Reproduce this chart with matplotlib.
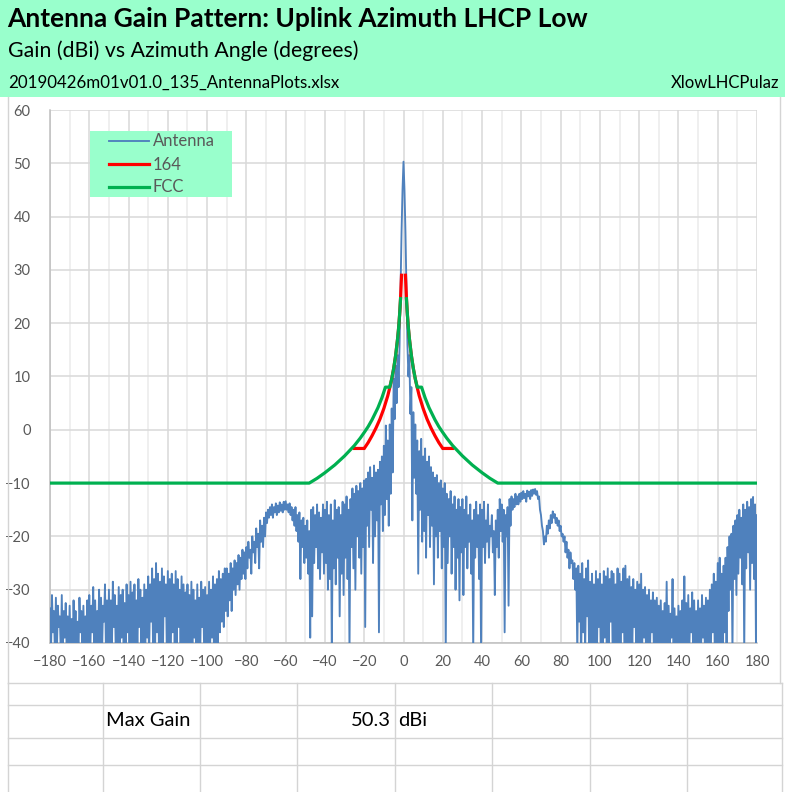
import numpy as np
import matplotlib
matplotlib.use("Agg")
import matplotlib.pyplot as plt
from matplotlib.patches import Rectangle
from matplotlib.lines import Line2D

# ---------------- data ----------------
title = "Antenna Gain Pattern: Uplink Azimuth LHCP Low"
subtitle = "Gain (dBi) vs Azimuth Angle (degrees)"
file_label = "20190426m01v01.0_135_AntennaPlots.xlsx"
sheet_label = "XlowLHCPulaz"
series_names = ["Antenna", "164", "FCC"]
x_ticks = list(range(-180, 181, 20))
y_ticks = list(range(-40, 61, 10))
max_gain_label = "Max Gain"
max_gain_value = 50.3
max_gain_unit = "dBi"

# antenna gain sampled every 0.5 degree from -180 to +180 (one row = 10 degrees)
antenna_start = -180.0
antenna_step = 0.5
antenna_gain = [
    -33.5, -42, -31, -38, -34, -42, -31.5, -42, -33, -37, -35, -42, -31, -42, -34, -39, -32.5, -42, -35, -42,
    -33, -42, -35.5, -42, -32, -40, -34, -42, -36, -42, -31.5, -38, -34, -42, -33, -42, -35, -42, -32, -41,
    -31, -42, -33, -38, -29.5, -42, -32, -42, -34, -40, -30, -42, -31.5, -42, -33, -36, -29, -42, -32, -42,
    -30, -42, -32, -42, -28.5, -37, -31, -42, -33, -42, -29.5, -42, -31, -39, -30, -42, -32.5, -42, -29, -38,
    -31, -42, -28.5, -42, -30.5, -40, -29, -42, -32, -42, -28, -37, -30, -42, -31.5, -42, -29, -42, -30, -39,
    -27.5, -42, -29, -36, -26, -42, -28, -42, -25, -38, -27, -42, -28.5, -42, -26, -42, -27.5, -35, -29, -42,
    -26.5, -42, -28, -42, -27, -38, -29, -42, -26.5, -42, -28, -37, -30, -42, -27.5, -42, -29, -42, -30.5, -40,
    -29, -42, -31, -42, -28.5, -42, -30, -39, -32, -42, -29, -42, -31.5, -42, -28.5, -37, -30, -42, -29.5, -42,
    -31, -42, -28.5, -42, -30, -39, -27.5, -42, -29, -42, -28, -40, -26.5, -38, -28, -36, -27, -37, -26, -34,
    -26, -35, -27, -32, -25, -34, -26, -30, -24.5, -31, -25, -29, -23.5, -30, -24, -28, -22.5, -27, -23, -28,
    -22, -26, -21, -24, -22.5, -27, -20, -23, -21, -25, -18.5, -22, -19.5, -26, -17, -21, -18, -22, -16.5, -20,
    -15.5, -17.5, -15, -16.5, -14.5, -16, -14, -16.5, -14.5, -15.5, -13.8, -16, -14.2, -15.5, -13.6, -15.2, -14, -15.5, -13.5, -15,
    -13.4, -15, -14, -15.5, -13.8, -16, -14.5, -17, -15, -18, -14.5, -19, -16, -21, -15.5, -28, -17, -22, -16.5, -25,
    -18, -24, -17, -27, -19, -39, -15, -35, -14.5, -25, -16, -22, -14, -26, -15.5, -28, -16.5, -23, -14, -27,
    -15, -25, -13.5, -30, -16, -28, -14, -42, -17, -26, -13.2, -29, -15, -24, -14.5, -35, -16, -27, -13.5, -31,
    -14, -24, -12.5, -28, -15, -42, -13, -22, -11, -26, -12, -30, -10.5, -20, -11.5, -24, -10, -27, -11, -22,
    -9.5, -37, -9.2, -18, -8, -22, -7, -15, -9, -25, -6.7, -20, -8, -17, -7.5, -38, -6, -14, -5, -19,
    -3, -16, 0.8, -13, -2, -18, 1, -12, 4, -8, 9.6, 2, 12, 5, 14, 8, 16, 27, 37, 45,
    50.3, 45, 37, 27, 16, 10, 14, 3, 8, -17, 3.3, -9, 1, -12, -2, -27, -4, -15, -1.7, -21,
    -5, -19, -3.5, -24, -6, -16, -5, -22, -7, -18, -8, -29, -9, -20, -8.5, -24, -10, -19, -9.5, -26,
    -11, -22, -10, -42, -12, -25, -13, -20, -11.5, -27, -14, -22, -12.5, -30, -15, -24, -13, -32, -14.5, -23,
    -13, -31, -15, -22, -12.5, -26, -16, -21, -14, -27, -17, -42, -15, -24, -13.5, -22, -16, -28, -14, -42,
    -15, -22, -13.5, -25, -17, -21, -14, -24, -18, -20, -16, -23, -19, -31, -17, -22, -15, -24, -13, -19,
    -14, -21, -15, -38, -16, -20, -14.5, -33, -13, -18, -12.5, -15, -13, -14.5, -12, -14, -12.5, -14, -12, -13.5,
    -11.8, -13, -11.5, -12.8, -12, -13.5, -11.4, -12.5, -11.6, -13, -11.3, -12.4, -11.2, -12, -11.1, -12.2, -11.5, -13, -12.5, -15,
    -16, -18, -19, -21.5, -20, -21, -18, -19.5, -17, -18.5, -16, -17.5, -15.3, -16.5, -15.8, -17.5, -16.5, -18, -17, -19,
    -18, -20, -19.5, -21, -20, -23, -21, -24, -22.5, -26, -23, -25, -24.5, -28, -25, -30, -26, -42, -25.5, -36,
    -27, -42, -25, -38, -28, -42, -26, -35, -24.5, -42, -28.5, -42, -27, -40, -29, -42, -26.5, -42, -28, -37,
    -27, -42, -29, -42, -26.5, -39, -27.5, -42, -26, -42, -28, -36, -26.5, -42, -27, -42, -29, -40, -26, -42,
    -27, -42, -28.5, -38, -26, -42, -25.5, -42, -28, -41, -27.5, -42, -29.5, -42, -28, -37, -30, -42, -28.5, -42,
    -29, -42, -27, -42, -30, -39, -29.5, -42, -31, -42, -30, -42, -32, -38, -30.5, -42, -32, -42, -31.5, -42,
    -33, -42, -32, -42, -34, -40, -32.5, -42, -28.5, -42, -33, -42, -34.5, -39, -28, -42, -33.5, -42, -35, -42,
    -33, -42, -34, -42, -32, -40, -27.5, -42, -32.5, -42, -31, -42, -33.5, -38, -30.5, -42, -32, -42, -34, -42,
    -32, -42, -33.5, -42, -31, -39, -33, -42, -31.5, -42, -32, -42, -30, -42, -29, -38, -27, -42, -28.5, -42,
    -25, -42, -24, -40, -27, -42, -25.5, -38, -24, -42, -22, -34, -20, -30, -19.5, -42, -18, -28, -17, -31,
    -16, -27, -15, -24, -16.5, -29, -14, -42, -15, -26, -13.5, -23, -14.5, -30, -13, -25, -12.6, -28, -14, -42,
    -16,
]

# "164" mask (breakpoints; NaN = gap at boresight)
mask164_angle = [-25, -20, -18, -16, -14, -12, -10, -8, -7, -6, -5, -4, -3, -2.5, -2, -1.5, -1, np.nan,
                 1, 1.5, 2, 2.5, 3, 4, 5, 6, 7, 8, 10, 12, 14, 16, 18, 20, 25]
mask164_gain = [-3.5, -3.5, -2.4, -1.1, 0.35, 2.0, 4.0, 6.4, 7.9, 9.55, 11.5, 13.95, 17.1, 19.05, 21.5, 24.6, 29, np.nan,
                29, 24.6, 21.5, 19.05, 17.1, 13.95, 11.5, 9.55, 7.9, 6.4, 4.0, 2.0, 0.35, -1.1, -2.4, -3.5, -3.5]

# FCC mask
fcc_angle = [-180, -48, -44, -40, -35, -30, -25, -22, -20, -18, -16, -13, -11, -9.2, -7, -6, -5, -4, -3, -2.5, -2, -1.5, np.nan,
             1.5, 2, 2.5, 3, 4, 5, 6, 7, 9.2, 11, 13, 16, 18, 20, 22, 25, 30, 35, 40, 44, 48, 180]
fcc_gain = [-10, -10, -9.1, -8.05, -6.6, -4.9, -2.95, -1.55, -0.5, 0.6, 1.9, 4.15, 6.0, 8, 8, 9.55, 11.5, 13.95, 17.1, 19.05, 21.5, 24.6, np.nan,
            24.6, 21.5, 19.05, 17.1, 13.95, 11.5, 9.55, 8, 8, 6.0, 4.15, 1.9, 0.6, -0.5, -1.55, -2.95, -4.9, -6.6, -8.05, -9.1, -10, -10]

# ---------------- styling ----------------
W, H = 785, 792
MINT = "#99FFCC"
BLUE = "#4F81BD"
RED = "#FF0000"
GREEN = "#00B050"
GRID = "#D9D9D9"
GRID_MINOR = "#EBEBEB"
TXT = "#595959"
CELL = "#D4D4D4"
FONT = ["Lato", "DejaVu Sans"]
plt.rcParams["font.family"] = FONT

fig = plt.figure(figsize=(W / 100, H / 100), dpi=100)
fig.patch.set_facecolor("white")


def fx(x):
    return x / W


def fy(y):
    return 1 - y / H


# header band
fig.add_artist(Rectangle((0, fy(97)), 1, 97 / H, transform=fig.transFigure,
                         facecolor=MINT, edgecolor="none", zorder=0))
fig.text(fx(7), fy(19), title, fontsize=19, fontweight="bold", color="black",
         ha="left", va="center")
fig.text(fx(8), fy(51), subtitle, fontsize=15.3, color="black", ha="left", va="center")
fig.text(fx(8), fy(83), file_label, fontsize=12.2, color="black", ha="left", va="center")
fig.text(fx(779), fy(83), sheet_label, fontsize=12, color="black", ha="right", va="center")

# sheet cell lines (below the chart)
col_x = [8, 103, 200, 297, 395, 492, 590, 687, 782]
row_y = [683, 705, 738, 765]
for yv in row_y:
    fig.add_artist(Line2D([fx(8), fx(782)], [fy(yv), fy(yv)], transform=fig.transFigure,
                          color=CELL, lw=1))
for xv in col_x:
    fig.add_artist(Line2D([fx(xv), fx(xv)], [fy(683), fy(792)], transform=fig.transFigure,
                          color=CELL, lw=1))
# chart area border
fig.add_artist(Line2D([fx(8), fx(8)], [fy(97), fy(683)], transform=fig.transFigure, color=CELL, lw=1))
fig.add_artist(Line2D([fx(780), fx(780)], [fy(97), fy(683)], transform=fig.transFigure, color=CELL, lw=1))

fig.text(fx(106), fy(721), max_gain_label, fontsize=14.5, color="black", ha="left", va="center")
fig.text(fx(391), fy(721), f"{max_gain_value:.1f}", fontsize=14.5, color="black", ha="right", va="center")
fig.text(fx(398), fy(721), max_gain_unit, fontsize=14.5, color="black", ha="left", va="center")

# plot area
ax = fig.add_axes([fx(50), fy(643), (757 - 50) / W, (643 - 110) / H])
ax.set_facecolor("white")

antenna_angle = antenna_start + antenna_step * np.arange(len(antenna_gain))
ax.plot(antenna_angle, antenna_gain, color=BLUE, lw=1.35, label=series_names[0], zorder=3)
ax.plot(mask164_angle, mask164_gain, color=RED, lw=2.3, label=series_names[1], zorder=4,
        solid_joinstyle="miter")
ax.plot(fcc_angle, fcc_gain, color=GREEN, lw=2.3, label=series_names[2], zorder=5)

ax.set_xlim(-180, 180)
ax.set_ylim(-40, 60)
ax.set_xticks(x_ticks)
ax.set_xticks(list(range(-170, 180, 20)), minor=True)
ax.set_yticks(y_ticks)
ax.grid(True, which="major", color=GRID, lw=1.1, zorder=0)
ax.grid(True, which="minor", axis="x", color=GRID_MINOR, lw=1.1, zorder=0)
ax.set_axisbelow(True)
ax.tick_params(which="both", length=0, labelsize=10.5, labelcolor=TXT, pad=9)
ax.tick_params(axis="y", pad=14)
for s in ["top", "right"]:
    ax.spines[s].set_visible(False)
for s in ["left", "bottom"]:
    ax.spines[s].set_color("#BFBFBF")
    ax.spines[s].set_linewidth(1.1)

# legend background box (Excel-style legend fill)
ax.add_patch(Rectangle(((90 - 50) / 707, (643 - 197) / 533), (232 - 90) / 707, (197 - 131) / 533,
                       transform=ax.transAxes, facecolor=MINT, edgecolor="none", zorder=2))
leg = ax.legend(loc="upper left", bbox_to_anchor=((106 - 50) / 707, (643 - 131) / 533),
                frameon=False, fontsize=12, handlelength=2.45, handletextpad=0.2,
                labelspacing=0.42, borderpad=0.15, borderaxespad=0)
for t in leg.get_texts():
    t.set_color(TXT)
leg.set_zorder(10)

fig.savefig("out.png", dpi=100)
